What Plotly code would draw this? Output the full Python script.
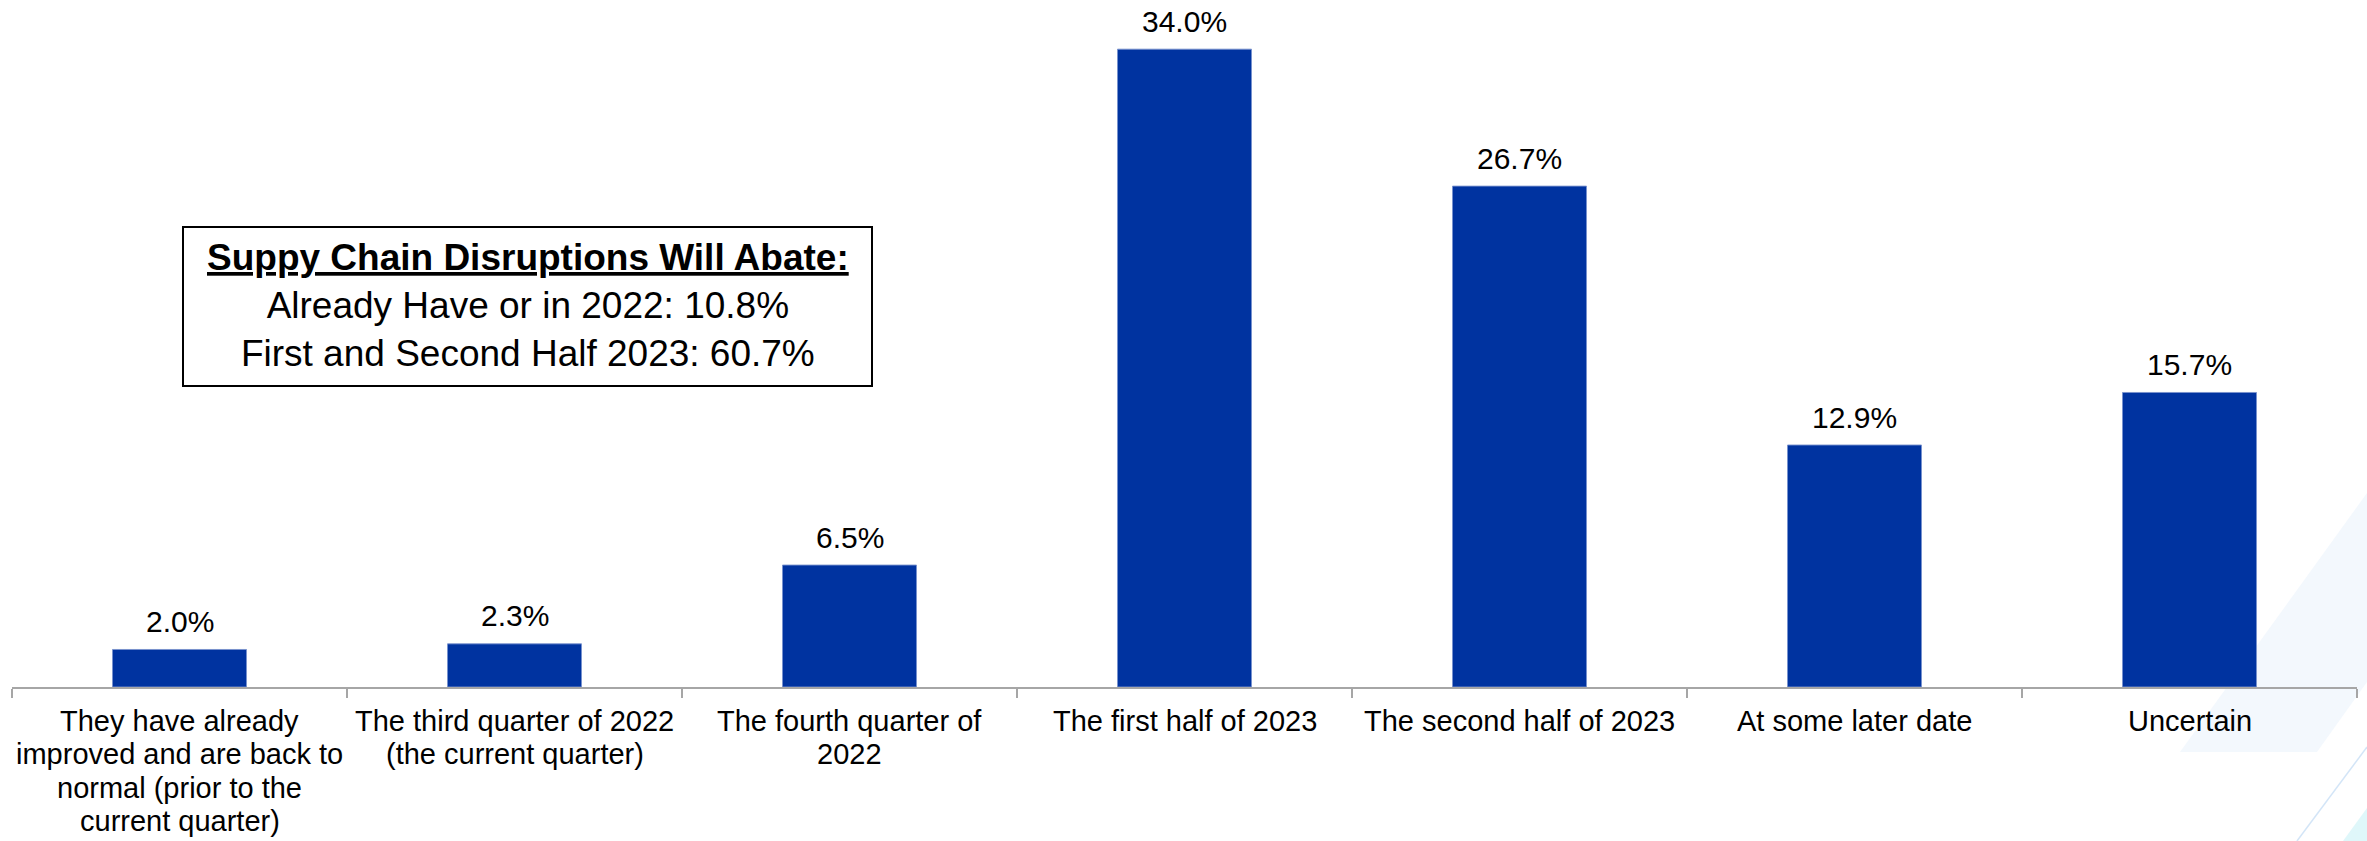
import plotly.graph_objects as go

# Survey: when supply chain disruptions are expected to abate
categories = [
    "They have already<br>improved and are back to<br>normal (prior to the<br>current quarter)",
    "The third quarter of 2022<br>(the current quarter)",
    "The fourth quarter of<br>2022",
    "The first half of 2023",
    "The second half of 2023",
    "At some later date",
    "Uncertain",
]
shares = [2.0, 2.3, 6.5, 34.0, 26.7, 12.9, 15.7]

summary_title = "Suppy Chain Disruptions Will Abate:"
summary_lines = [
    "Already Have or in 2022: 10.8%",
    "First and Second Half 2023: 60.7%",
]

W, H = 2367, 841
ML, MR, MT, MB = 12, 10, 0, 154
PW, PH = W - ML - MR, H - MT - MB
FONT = "Liberation Sans, Arial, sans-serif"
BAR_BLUE = "#0033A0"

# category label layout below the axis (pixels)
LABEL_FIRST_OFFSET = 34
LABEL_LINE_STEP = 33.3


def px_x(x):
    return (x - ML) / PW


def px_y(y):
    return (H - MB - y) / PH


fig = go.Figure(
    go.Bar(
        x=categories,
        y=shares,
        marker=dict(color=BAR_BLUE, line=dict(color="rgba(120,145,205,0.9)", width=1)),
        cliponaxis=False,
        hoverinfo="skip",
    )
)

# value labels above each bar
for cat, val in zip(categories, shares):
    fig.add_annotation(
        x=cat, y=val,
        xref="x", yref="y",
        text=f"{val:.1f}%",
        showarrow=False,
        xanchor="center", yanchor="middle",
        yshift=28,
        font=dict(family=FONT, size=30, color="#000000"),
    )

# category labels, one line at a time for a compact line spacing
for cat in categories:
    for i, line in enumerate(cat.split("<br>")):
        fig.add_annotation(
            x=cat, y=0,
            xref="x", yref="paper",
            text=line,
            showarrow=False,
            xanchor="center", yanchor="middle",
            yshift=-(LABEL_FIRST_OFFSET + i * LABEL_LINE_STEP),
            font=dict(family=FONT, size=29, color="#000000"),
        )

# faint chevron decoration in the lower-right corner of the slide
fig.add_shape(
    type="path",
    xref="paper", yref="paper",
    path=(
        f"M {px_x(2367)} {px_y(493)} L {px_x(2180)} {px_y(752)} "
        f"L {px_x(2317)} {px_y(752)} L {px_x(2367)} {px_y(682)} Z"
    ),
    fillcolor="rgba(228,240,250,0.45)",
    line=dict(width=0),
    layer="below",
)
fig.add_shape(
    type="line",
    xref="paper", yref="paper",
    x0=px_x(2367), y0=px_y(747), x1=px_x(2297), y1=px_y(841),
    line=dict(color="rgba(200,222,245,0.8)", width=1.5),
    layer="below",
)
fig.add_shape(
    type="path",
    xref="paper", yref="paper",
    path=(
        f"M {px_x(2343)} {px_y(841)} L {px_x(2367)} {px_y(808)} "
        f"L {px_x(2367)} {px_y(841)} Z"
    ),
    fillcolor="rgba(220,246,250,0.9)",
    line=dict(width=0),
    layer="below",
)

# summary call-out box
fig.add_shape(
    type="rect",
    xref="paper", yref="paper",
    x0=px_x(183), y0=px_y(386), x1=px_x(872), y1=px_y(227),
    line=dict(color="#000000", width=2),
    fillcolor="rgba(255,255,255,0)",
)
box_text = (
    f"<b><span style='text-decoration:underline'>{summary_title}</span></b><br>"
    + "<br>".join(summary_lines)
)
fig.add_annotation(
    xref="paper", yref="paper",
    x=px_x(527.5), y=px_y(305),
    xanchor="center", yanchor="middle",
    text=box_text,
    showarrow=False,
    align="center",
    font=dict(family=FONT, size=37, color="#000000"),
)

fig.update_layout(
    width=W,
    height=H,
    margin=dict(l=ML, r=MR, t=MT, b=MB, autoexpand=False),
    paper_bgcolor="#FFFFFF",
    plot_bgcolor="rgba(0,0,0,0)",
    showlegend=False,
    bargap=0.6,
    font=dict(family=FONT, color="#000000"),
)
fig.update_xaxes(
    type="category",
    automargin=False,
    tickson="boundaries",
    ticks="outside",
    ticklen=9,
    tickwidth=1.5,
    tickcolor="#A6A6A6",
    showline=True,
    linecolor="#A6A6A6",
    linewidth=2,
    showgrid=False,
    showticklabels=False,
)
fig.update_yaxes(
    range=[0, (H - MB - MT) / 18.76],
    automargin=False,
    visible=False,
    showgrid=False,
    zeroline=False,
)

fig.write_html("out.html")
